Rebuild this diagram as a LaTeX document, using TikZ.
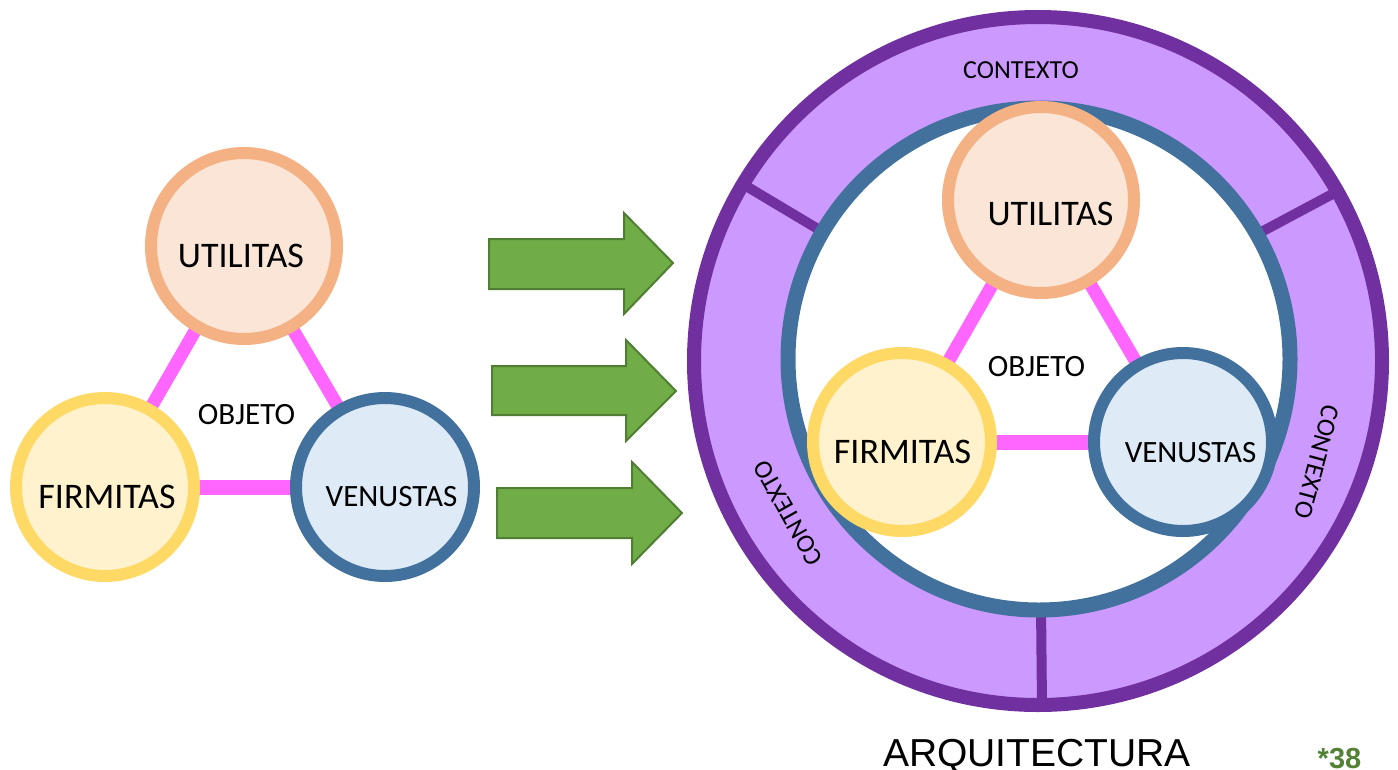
\documentclass[tikz,border=0pt]{standalone}
\usepackage{fontspec}
\setmainfont{Carlito}
\newfontfamily\arialfont{Liberation Sans}
\usetikzlibrary{backgrounds}
\definecolor{utb}{HTML}{F4B183}
\definecolor{utf}{HTML}{FBE5D6}
\definecolor{fib}{HTML}{FFD966}
\definecolor{fif}{HTML}{FFF2CC}
\definecolor{veb}{HTML}{41719C}
\definecolor{vef}{HTML}{DEEBF7}
\definecolor{pinkc}{HTML}{FF66FF}
\definecolor{arrf}{HTML}{70AD47}
\definecolor{arrb}{HTML}{507E32}
\definecolor{ringf}{HTML}{CC99FF}
\definecolor{ringb}{HTML}{7030A0}
\definecolor{numc}{HTML}{538135}
\begin{document}
\begin{tikzpicture}[x=1pt,y=-1pt,
  utc/.style={circle,draw=utb,fill=utf,line width=12pt,minimum size=186pt,inner sep=0pt},
  fic/.style={circle,draw=fib,fill=fif,line width=12pt,minimum size=178pt,inner sep=0pt},
  vec/.style={circle,draw=veb,fill=vef,line width=12pt,minimum size=178pt,inner sep=0pt},
  bigtxt/.style={inner sep=0pt,font=\fontsize{36}{40}\selectfont},
  midtxt/.style={inner sep=0pt,font=\fontsize{31}{35}\selectfont},
  ctxtxt/.style={inner sep=0pt,font=\fontsize{26}{30}\selectfont},
  pinkline/.style={draw=pinkc,line width=13pt},
  pinkflat/.style={draw=pinkc,line width=15pt},
  garrow/.style={fill=arrf,draw=arrb,line width=2pt,line join=miter},
  divider/.style={draw=ringb,line width=10pt},
  ringout/.style={circle,draw=ringb,fill=ringf,line width=14pt,minimum size=688pt,inner sep=0pt},
  ringin/.style={circle,draw=veb,fill=white,line width=15pt,minimum size=502pt,inner sep=0pt}
]
\useasboundingbox (0,0) rectangle (1398,769);

% ---------- left group ----------
\node[utc] (ut1) at (244,246) {};
\node[fic] (fi1) at (105,487) {};
\node[vec] (ve1) at (385,487) {};
\node[bigtxt] (ut1t) at (241,255.5) {UTILITAS};
\node[bigtxt] (fi1t) at (107,496.5) {FIRMITAS};
\node[midtxt] (ve1t) at (391.5,497) {VENUSTAS};
\node[midtxt] (ob1t) at (246.5,415) {OBJETO};

% ---------- arrows ----------
\draw[garrow] (489,239) -- (624,239) -- (624,213) -- (673,263) -- (624,314) -- (624,289) -- (489,289) -- cycle;
\draw[garrow] (492,366) -- (626,366) -- (626,340) -- (676,391) -- (626,441) -- (626,415) -- (492,415) -- cycle;
\draw[garrow] (497,488) -- (632,488) -- (632,462) -- (682,513) -- (632,564) -- (632,538) -- (497,538) -- cycle;

% ---------- right group ----------
\node[utc] (ut2) at (1041,200) {};
\node[fic] (fi2) at (902,442) {};
\node[vec] (ve2) at (1183,442) {};
\node[bigtxt] (ut2t) at (1050.5,213.5) {UTILITAS};
\node[bigtxt] (fi2t) at (902.5,451.5) {FIRMITAS};
\node[midtxt] (ve2t) at (1190.5,453) {VENUSTAS};
\node[midtxt] (ob2t) at (1036.5,367) {OBJETO};

\begin{pgfonlayer}{background}
  \node[ringout] (ring) at (1038,361) {};
  \coordinate (d1a) at (828,235);
  \coordinate (d1b) at (741,183);
  \coordinate (d2a) at (1250,238);
  \coordinate (d2b) at (1340,190);
  \coordinate (d3a) at (1041,605);
  \coordinate (d3b) at (1042,706);
  \draw[divider] (d1a) -- (d1b);
  \draw[divider] (d2a) -- (d2b);
  \draw[divider] (d3a) -- (d3b);
  \node[ringin] (inner) at (1039,359) {};
  \node[ctxtxt] (ctxtop) at (1021,70) {CONTEXTO};
  \node[ctxtxt,rotate=119.5] (ctxleft) at (788,513) {CONTEXTO};
  \node[ctxtxt,rotate=-105] (ctxright) at (1317,462) {CONTEXTO};
  \draw[pinkline] (ut1.center) -- (fi1.center);
  \draw[pinkline] (ut1.center) -- (ve1.center);
  \draw[pinkflat] (fi1.center) -- (ve1.center);
  \draw[pinkline] (ut2.center) -- (fi2.center);
  \draw[pinkline] (ut2.center) -- (ve2.center);
  \draw[pinkflat] (fi2.center) -- (ve2.center);
\end{pgfonlayer}

% ---------- captions ----------
\node[inner sep=0pt,anchor=base,font=\arialfont\fontsize{39}{44}\selectfont] (arq) at (1037,766) {ARQUITECTURA};
\node[inner sep=0pt,anchor=base,text=numc,font=\arialfont\bfseries\fontsize{29}{33}\selectfont] (num) at (1339.5,768) {*38};
\end{tikzpicture}
\end{document}
